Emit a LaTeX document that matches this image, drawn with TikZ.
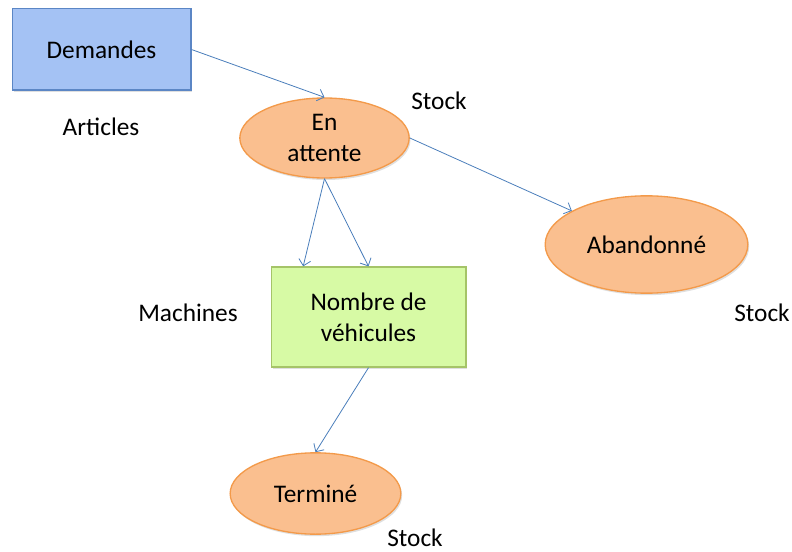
\documentclass[tikz,border=0pt]{standalone}
\usepackage{fontspec}
\setmainfont{Carlito}
\usetikzlibrary{positioning,arrows.meta,shapes.geometric,shadows}
\definecolor{DemBlue}{HTML}{A4C2F4}
\definecolor{DemEdge}{HTML}{5B86C5}
\definecolor{EtatFill}{HTML}{FABF8F}
\definecolor{EtatEdge}{HTML}{F39A4A}
\definecolor{MachFill}{HTML}{D7FAA5}
\definecolor{MachEdge}{HTML}{A5C468}
\definecolor{FlowBlue}{HTML}{4A7EBB}

\begin{document}
\begin{tikzpicture}[
  x=0.75pt, y=-0.75pt,
  every node/.style={font=\fontsize{19}{23.5}\selectfont},
  shade/.style={drop shadow={opacity=0.25, shadow xshift=1pt, shadow yshift=-1.5pt}},
  src/.style={draw=DemEdge, fill=DemBlue, line width=1pt, inner sep=0pt, align=center, shade},
  etat/.style={ellipse, draw=EtatEdge, fill=EtatFill, line width=1pt, inner sep=0pt, align=center, shade},
  ress/.style={draw=MachEdge, fill=MachFill, line width=1pt, inner sep=0pt, align=center, shade},
  lbl/.style={inner sep=0pt},
  flow/.style={-{Straight Barb[length=1.6mm, width=3.2mm]}, draw=FlowBlue, line width=0.6pt}
]
\useasboundingbox (0,0) rectangle (792,552);

\node[src, minimum width=134pt, minimum height=61pt] (dem) at (101.5,49.5) {Demandes};
\node[etat, minimum width=127pt, minimum height=60pt] (att) at (324.5,138) {En\\attente};
\node[etat, minimum width=152pt, minimum height=73pt] (aband) at (646.5,244.5) {Abandonné};
\node[ress, minimum width=146pt, minimum height=75pt] (nb) at (368.5,317) {Nombre de\\véhicules};
\node[etat, minimum width=128pt, minimum height=61pt] (term) at (315.5,493.5) {Terminé};

\node[lbl] (art) at (101,127) {Articles};
\node[lbl] (stA) at (439,101) {Stock};
\node[lbl] (mach) at (188,313) {Machines};
\node[lbl] (stB) at (762,313) {Stock};
\node[lbl] (stC) at (415,537.5) {Stock};

\draw[flow] (dem.east) -- (att.north);
\draw[flow] (att.east) -- (aband);
\draw[flow] (att.south) -- ([xshift=-49pt]nb.north);
\draw[flow] (att.south) -- (nb.north);
\draw[flow] (nb.south) -- (term.north);
\end{tikzpicture}
\end{document}
